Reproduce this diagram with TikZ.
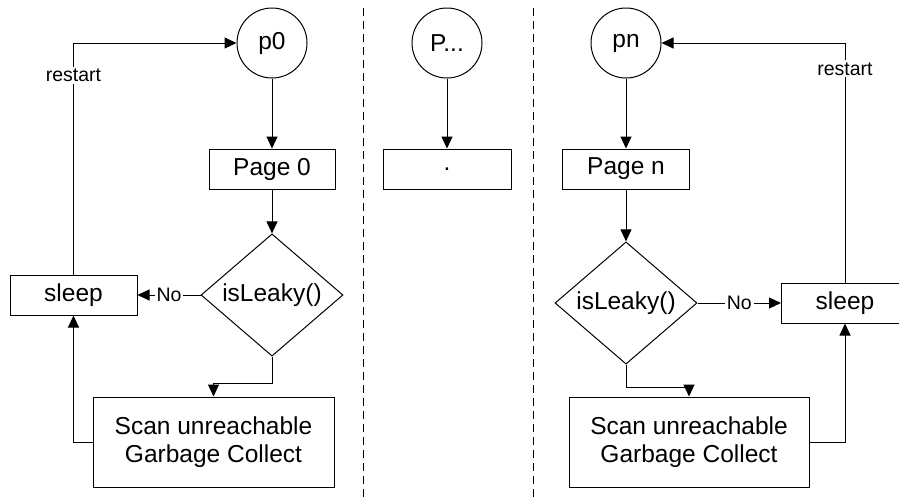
\documentclass[tikz,border=0pt]{standalone}
\usepackage{fontspec}
\setmainfont{Liberation Sans}
\usetikzlibrary{shapes.geometric,arrows.meta}

\begin{document}
\begin{tikzpicture}[x=1pt,y=-1pt,line width=1pt,
  big/.style={font=\fontsize{24.5}{28}\selectfont},
  small/.style={font=\fontsize{19.5}{22}\selectfont},
  state/.style={draw,circle,minimum size=70pt,inner sep=0pt,big},
  box/.style={draw,rectangle,inner sep=0pt,big,align=center},
  test/.style={draw,diamond,minimum width=142pt,minimum height=110pt,inner sep=0pt,big},
  flow/.style={-{Triangle[length=12pt,width=11pt]}},
  tag/.style={fill=white,inner sep=2pt,small},
  divider/.style={dash pattern=on 8pt off 5pt}]
\useasboundingbox (0,0) rectangle (899,499);

% column separators
\coordinate (d1t) at (363,8);  \coordinate (d1b) at (363,499);
\coordinate (d2t) at (533,8);  \coordinate (d2b) at (533,499);
\draw[divider] (d1t) -- (d1b);
\draw[divider] (d2t) -- (d2b);

% first process
\node[state] (p0) at (272,43) {p0};
\node[box,minimum width=126pt,minimum height=40pt] (page0) at (272,169) {Page 0};
\node[test] (dia0) at (272,295) {isLeaky()};
\node[box,minimum width=127pt,minimum height=40pt] (sleep0) at (73.5,295) {sleep};
\node[box,minimum width=241pt,minimum height=90pt] (gc0) at (213.5,442) {Scan unreachable\\Garbage Collect};

\draw[flow] (p0) -- (page0);
\draw[flow] (page0) -- (dia0);
\draw[flow] (dia0.west) -- node[tag] {No} (sleep0.east);
\draw[flow] (dia0.south) -- ++(0,27) -| (gc0.north);
\draw[flow] (gc0.west) -| (sleep0.south);
\draw[flow] (sleep0.north) |- node[tag,pos=0.43] {restart} (p0.west);

% intermediate processes
\node[state] (pm) at (447,43) {P...};
\node[box,minimum width=128pt,minimum height=40pt] (pagem) at (447,169) {.};
\draw[flow] (pm) -- (pagem);

% last process
\node[state] (pn) at (626,43) {pn};
\node[box,minimum width=127pt,minimum height=40pt] (pagen) at (626,169) {Page n};
\node[test] (dian) at (626,303) {isLeaky()};
\node[box,minimum width=127pt,minimum height=40pt] (sleepn) at (845,303) {sleep};
\node[box,minimum width=240pt,minimum height=90pt] (gcn) at (689,442) {Scan unreachable\\Garbage Collect};

\draw[flow] (pn) -- (pagen);
\draw[flow] (pagen) -- (dian);
\draw[flow] (dian.east) -- node[tag] {No} (sleepn.west);
\draw[flow] (dian.south) -- ++(0,23) -| (gcn.north);
\draw[flow] (gcn.east) -| (sleepn.south);
\draw[flow] (sleepn.north) |- node[tag,pos=0.446] {restart} (pn.east);
\end{tikzpicture}
\end{document}
